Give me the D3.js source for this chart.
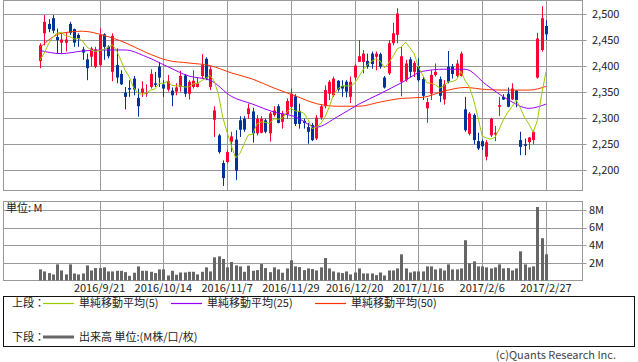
<!DOCTYPE html>
<html>

<head>
    <meta charset='utf-8'>
    <title>Candles</title>
    <script src='https://cdn.jsdelivr.net/npm/d3@7'></script>
    <style>
        body { margin: 0; background: #fff; }
        text { font-family: 'Noto Sans CJK JP', 'Noto Sans', sans-serif; font-size: 11px; fill: #222; }
    </style>
</head>

<body>
    <svg width='638' height='362'></svg>
    <script type='text/javascript'>

        // x軸の目盛り (足の番号) とラベル
        const tickIdx = [14, 29, 44, 59, 74, 89, 104, 119]
        const tickLabels = ['2016/9/21', '2016/10/14', '2016/11/7', '2016/11/29', '2016/12/20', '2017/1/16', '2017/2/6', '2017/2/27']
        const priceTicks = [2200, 2250, 2300, 2350, 2400, 2450, 2500]
        const volTicks = [2, 4, 6, 8]

        const open = [2410, 2463, 2481, 2492, 2456, 2445, 2445, 2481, 2471, 2460, 2432, 2413, 2418, 2399, 2402, 2461, 2437, 2389, 2402, 2385,
            2349, 2358, 2376, 2339, 2349, 2347, 2360, 2367, 2399, 2365, 2355, 2353, 2351, 2360, 2382, 2347, 2360, 2360, 2381, 2414,
            2360, 2297, 2267, 2214, 2216, 2255, 2259, 2296, 2299, 2308, 2313, 2271, 2272, 2296, 2271, 2306, 2323, 2293, 2308, 2322,
            2342, 2314, 2295, 2283, 2287, 2261, 2301, 2323, 2347, 2344, 2372, 2362, 2370, 2341, 2378, 2408, 2408, 2410, 2424, 2418,
            2423, 2378, 2386, 2444, 2460, 2370, 2374, 2413, 2389, 2399, 2375, 2319, 2347, 2383, 2375, 2336, 2399, 2399, 2381, 2381,
            2317, 2270, 2306, 2256, 2256, 2226, 2267, 2269, 2322, 2341, 2347, 2336, 2353, 2258, 2250, 2254, 2258, 2378, 2431, 2477]
        const high = [2444, 2498, 2490, 2498, 2472, 2463, 2465, 2485, 2472, 2463, 2437, 2424, 2437, 2437, 2472, 2463, 2440, 2463, 2434, 2392,
            2360, 2373, 2381, 2357, 2371, 2365, 2394, 2389, 2408, 2373, 2383, 2359, 2367, 2391, 2385, 2373, 2392, 2378, 2423, 2417,
            2399, 2323, 2270, 2219, 2239, 2274, 2277, 2304, 2304, 2328, 2320, 2306, 2304, 2299, 2312, 2323, 2327, 2314, 2338, 2357,
            2346, 2328, 2299, 2291, 2291, 2306, 2327, 2363, 2373, 2380, 2373, 2373, 2373, 2380, 2404, 2450, 2431, 2424, 2428, 2428,
            2426, 2381, 2450, 2483, 2511, 2437, 2412, 2417, 2410, 2415, 2380, 2339, 2392, 2405, 2380, 2373, 2429, 2404, 2412, 2428,
            2341, 2312, 2309, 2272, 2259, 2258, 2301, 2285, 2341, 2346, 2359, 2367, 2354, 2274, 2261, 2264, 2277, 2464, 2515, 2488]
        const low = [2396, 2440, 2465, 2463, 2424, 2424, 2428, 2460, 2437, 2437, 2412, 2373, 2399, 2396, 2399, 2412, 2415, 2371, 2367, 2364,
            2317, 2341, 2344, 2303, 2341, 2341, 2357, 2360, 2360, 2341, 2351, 2323, 2344, 2351, 2341, 2336, 2357, 2359, 2376, 2373,
            2354, 2264, 2232, 2170, 2213, 2235, 2181, 2264, 2274, 2299, 2253, 2267, 2271, 2271, 2255, 2303, 2290, 2280, 2299, 2309,
            2285, 2280, 2280, 2251, 2256, 2258, 2297, 2319, 2335, 2341, 2351, 2341, 2340, 2329, 2373, 2408, 2386, 2395, 2395, 2392,
            2395, 2357, 2383, 2440, 2444, 2342, 2370, 2378, 2379, 2370, 2335, 2291, 2335, 2380, 2331, 2326, 2367, 2376, 2378, 2380,
            2274, 2267, 2250, 2239, 2239, 2219, 2264, 2256, 2304, 2335, 2321, 2335, 2321, 2229, 2229, 2240, 2250, 2376, 2428, 2450]
        const close = [2440, 2485, 2471, 2468, 2450, 2451, 2451, 2464, 2445, 2453, 2426, 2396, 2434, 2432, 2460, 2437, 2419, 2458, 2378, 2365,
            2341, 2355, 2355, 2323, 2357, 2349, 2385, 2364, 2378, 2357, 2371, 2344, 2359, 2381, 2347, 2370, 2372, 2367, 2402, 2376,
            2394, 2315, 2235, 2185, 2235, 2265, 2199, 2278, 2278, 2319, 2271, 2299, 2299, 2274, 2309, 2315, 2291, 2309, 2333, 2347,
            2289, 2289, 2291, 2274, 2258, 2301, 2323, 2354, 2370, 2376, 2355, 2357, 2351, 2370, 2401, 2419, 2424, 2399, 2404, 2424,
            2399, 2359, 2444, 2463, 2501, 2419, 2405, 2389, 2406, 2373, 2343, 2331, 2383, 2389, 2343, 2365, 2370, 2385, 2405, 2424,
            2277, 2309, 2258, 2242, 2246, 2254, 2299, 2272, 2325, 2336, 2322, 2357, 2335, 2245, 2247, 2263, 2274, 2453, 2492, 2461]
        // 出来高 (M株)
        const volume = [1.26, 1.03, 0.84, 0.69, 1.83, 1.14, 0.69, 1.83, 0.80, 0.69, 0.80, 1.71, 1.14, 1.41, 1.41, 1.49, 1.03, 1.03, 1.10, 1.10,
            0.95, 0.53, 0.88, 1.60, 1.10, 1.10, 0.99, 0.84, 1.26, 1.26, 0.57, 1.10, 0.65, 0.91, 0.91, 0.99, 0.99, 0.69, 0.99, 1.49,
            1.03, 2.63, 2.74, 2.44, 1.49, 2.10, 1.71, 1.60, 0.99, 1.68, 1.10, 1.18, 1.87, 1.41, 0.95, 1.49, 1.26, 0.88, 1.37, 2.29,
            1.60, 1.52, 1.18, 1.37, 1.30, 1.14, 1.49, 2.55, 1.37, 1.03, 0.91, 0.84, 1.03, 0.69, 0.91, 1.37, 0.80, 0.80, 0.80, 0.61,
            0.91, 0.57, 1.14, 1.14, 1.37, 2.97, 1.37, 0.91, 1.03, 1.03, 1.03, 1.60, 1.60, 1.26, 1.37, 1.14, 1.83, 1.26, 1.26, 1.37,
            4.57, 1.94, 2.17, 1.60, 1.60, 1.49, 1.37, 1.49, 1.83, 1.37, 1.41, 1.14, 1.37, 3.31, 1.83, 1.49, 1.60, 8.34, 4.80, 2.97]
        const ma5 = [2412, 2425, 2443, 2456, 2463, 2465, 2458, 2457, 2452, 2453, 2448, 2437, 2431, 2428, 2430, 2432, 2436, 2441, 2430, 2411,
            2392, 2379, 2359, 2348, 2346, 2348, 2354, 2356, 2367, 2367, 2371, 2363, 2362, 2362, 2360, 2360, 2366, 2367, 2372, 2377,
            2382, 2371, 2344, 2301, 2273, 2247, 2224, 2232, 2251, 2268, 2269, 2289, 2293, 2292, 2290, 2299, 2298, 2300, 2311, 2319,
            2314, 2313, 2310, 2298, 2280, 2283, 2289, 2302, 2321, 2345, 2356, 2362, 2362, 2362, 2367, 2380, 2393, 2403, 2409, 2414,
            2410, 2397, 2406, 2418, 2433, 2437, 2446, 2435, 2424, 2398, 2383, 2368, 2367, 2364, 2358, 2362, 2370, 2370, 2374, 2390,
            2372, 2360, 2335, 2302, 2266, 2262, 2260, 2263, 2279, 2297, 2311, 2322, 2335, 2319, 2301, 2289, 2273, 2296, 2346, 2389]
        const maIdx = [0, 5, 10, 15, 20, 25, 30, 35, 40, 45, 50, 55, 60, 65, 70, 75, 80, 85, 90, 95, 100, 105, 110, 115, 119]
        const ma25 = [2430, 2424, 2429, 2431, 2431, 2418, 2399, 2381, 2373, 2342, 2327, 2312, 2303, 2283, 2303, 2327, 2347, 2368, 2390, 2394, 2394, 2364, 2336, 2319, 2327]
        const ma50 = [2436, 2463, 2467, 2459, 2445, 2426, 2411, 2406, 2401, 2387, 2375, 2358, 2343, 2328, 2323, 2323, 2331, 2338, 2340, 2352, 2359, 2355, 2354, 2354, 2361]

        const svg = d3.select('svg')
        const L = 3.5, R = 582.5
        const gridColor = '#999'
        const upColor = '#ff0033', downColor = '#003399'

        const x = d3.scaleLinear().domain([-8.65, 127.65]).range([3.3, 582.7])
        const y = d3.scaleLinear().domain([2162.2, 2525]).range([190, 1])
        const yv = d3.scaleLinear().domain([0, 9]).range([280.5, 201.2])
        const px = v => Math.round(v) + 0.5

        const candles = open.map((o, i) => ({ i, o, h: high[i], l: low[i], c: close[i], v: volume[i] }))

        // グリッド (上段)
        const grid = svg.append('g').attr('stroke', gridColor).attr('stroke-width', 1)
        grid.selectAll('.hp').data(priceTicks).enter().append('line')
            .attr('x1', L).attr('x2', R + 4)
            .attr('y1', d => px(y(d))).attr('y2', d => px(y(d)))
        grid.selectAll('.vp').data(tickIdx).enter().append('line')
            .attr('x1', d => px(x(d))).attr('x2', d => px(x(d)))
            .attr('y1', 0.5).attr('y2', 190.5)
        // グリッド (下段)
        grid.selectAll('.hv').data(volTicks).enter().append('line')
            .attr('x1', L).attr('x2', R + 4)
            .attr('y1', d => px(yv(d))).attr('y2', d => px(yv(d)))
        grid.selectAll('.vv').data(tickIdx).enter().append('line')
            .attr('x1', d => px(x(d))).attr('x2', d => px(x(d)))
            .attr('y1', 201.5).attr('y2', 280.5)
        grid.append('rect').attr('x', L).attr('y', 0.5).attr('width', R - L).attr('height', 190).attr('fill', 'none')
        grid.append('rect').attr('x', L).attr('y', 201.5).attr('width', R - L).attr('height', 79).attr('fill', 'none')

        // ローソク足
        const cg = svg.append('g')
        cg.selectAll('line').data(candles).enter().append('line')
            .attr('x1', d => Math.round(x(d.i)) + 0.5).attr('x2', d => Math.round(x(d.i)) + 0.5)
            .attr('y1', d => y(d.h)).attr('y2', d => y(d.l))
            .attr('stroke', d => d.c >= d.o ? upColor : downColor)
        cg.selectAll('rect').data(candles).enter().append('rect')
            .attr('x', d => Math.round(x(d.i)) - 1)
            .attr('width', 3)
            .attr('y', d => y(Math.max(d.o, d.c)))
            .attr('height', d => Math.max(1, y(Math.min(d.o, d.c)) - y(Math.max(d.o, d.c))))
            .attr('fill', d => d.c >= d.o ? upColor : downColor)

        // 移動平均
        const line = d3.line().x(d => x(d[0])).y(d => y(d[1]))
        const smooth = d3.line().x(d => x(d[0])).y(d => y(d[1])).curve(d3.curveMonotoneX)
        svg.append('path').attr('d', smooth(maIdx.map((k, j) => [k, ma50[j]])))
            .attr('fill', 'none').attr('stroke', '#ff3300').attr('stroke-width', 1)
        svg.append('path').attr('d', smooth(maIdx.map((k, j) => [k, ma25[j]])))
            .attr('fill', 'none').attr('stroke', '#9900ff').attr('stroke-width', 1)
        svg.append('path').attr('d', line(ma5.map((v, i) => [i, v])))
            .attr('fill', 'none').attr('stroke', '#99cc00').attr('stroke-width', 1)

        // 出来高
        svg.append('g').selectAll('rect').data(candles).enter().append('rect')
            .attr('x', d => Math.round(x(d.i)) - 1)
            .attr('width', 3)
            .attr('y', d => yv(d.v))
            .attr('height', d => yv(0) - yv(d.v))
            .attr('fill', '#666')

        // 軸ラベル
        svg.selectAll('.py').data(priceTicks).enter().append('text')
            .attr('x', 592).attr('y', d => y(d)).attr('dy', '0.35em')
            .text(d => d3.format(',')(d))
        svg.selectAll('.vy').data(volTicks).enter().append('text')
            .attr('x', 589).attr('y', d => yv(d)).attr('dy', '0.35em')
            .text(d => d + 'M')
        svg.selectAll('.tx').data(tickIdx).enter().append('text')
            .attr('x', d => x(d)).attr('y', 291.5).attr('text-anchor', 'middle')
            .text((d, i) => tickLabels[i])
        svg.append('text').attr('x', 6).attr('y', 208.5).attr('dy', '0.35em').text('単位: M')

        // 凡例
        svg.append('rect').attr('x', 3.5).attr('y', 296.5).attr('width', 631).attr('height', 50)
            .attr('fill', 'none').attr('stroke', '#111')
        const legend = [
            { label: '単純移動平均(5)', color: '#99cc00', x: 43, tx: 79 },
            { label: '単純移動平均(25)', color: '#9900ff', x: 171, tx: 207 },
            { label: '単純移動平均(50)', color: '#ff3300', x: 315, tx: 351 }
        ]
        svg.append('text').attr('x', 12).attr('y', 303.5).attr('dy', '0.35em').text('上段：')
        legend.forEach(d => {
            svg.append('line').attr('x1', d.x).attr('x2', d.x + 31).attr('y1', 303.5).attr('y2', 303.5)
                .attr('stroke', d.color).attr('stroke-width', 1.2)
            svg.append('text').attr('x', d.tx).attr('y', 303.5).attr('dy', '0.35em').text(d.label)
        })
        svg.append('text').attr('x', 12).attr('y', 337).attr('dy', '0.35em').text('下段：')
        svg.append('line').attr('x1', 43).attr('x2', 74).attr('y1', 337).attr('y2', 337)
            .attr('stroke', '#666').attr('stroke-width', 3)
        svg.append('text').attr('x', 79).attr('y', 337).attr('dy', '0.35em').text('出来高 単位:(M株/口/枚)')

        svg.append('text').attr('x', 616).attr('y', 355.5).attr('dy', '0.35em').attr('text-anchor', 'end')
            .style('fill', '#444').text('(c)Quants Research Inc.')
    </script>
</body>

</html>
